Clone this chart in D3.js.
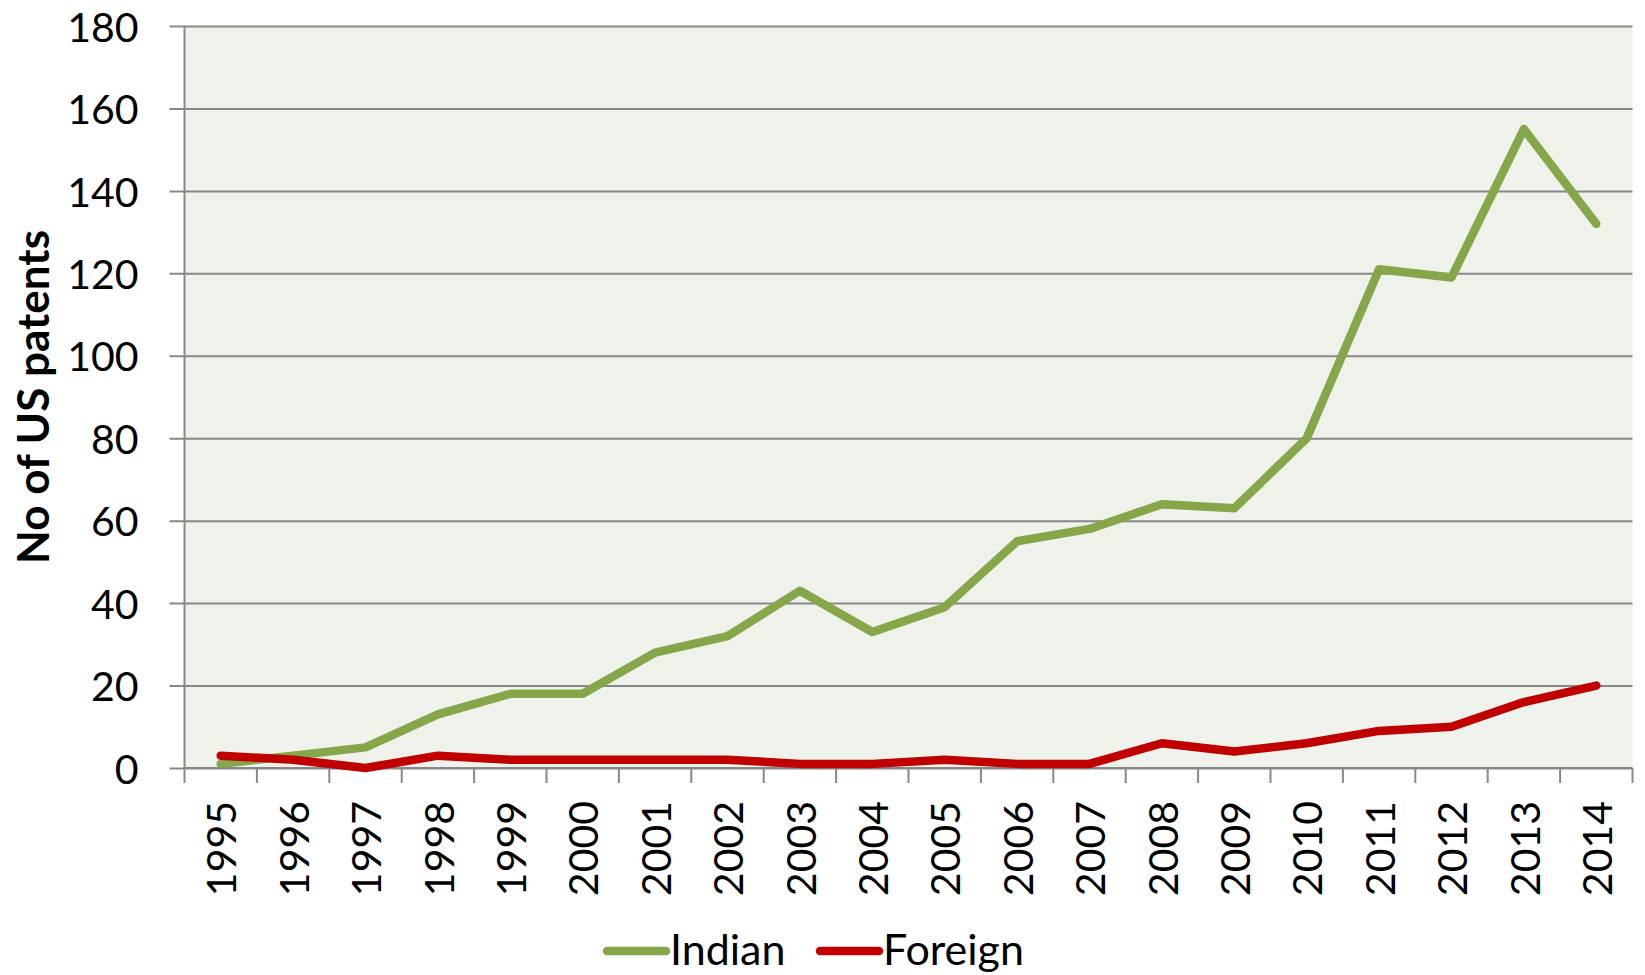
<!DOCTYPE html>
<html>
<head>
<meta charset="utf-8">
<script src="https://d3js.org/d3.v7.min.js"></script>
<style>
    body { margin: 0; background: #fff; }
    text { font-family: Lato, "Open Sans", "DejaVu Sans", sans-serif; fill: #000; }
</style>
</head>
<body>
<script>
// data
let years = ["1995", "1996", "1997", "1998", "1999", "2000", "2001", "2002", "2003", "2004",
             "2005", "2006", "2007", "2008", "2009", "2010", "2011", "2012", "2013", "2014"];
let indian = [1, 3, 5, 13, 18, 18, 28, 32, 43, 33, 39, 55, 58, 64, 63, 80, 121, 119, 155, 132];
let foreign = [3, 2, 0, 3, 2, 2, 2, 2, 1, 1, 2, 1, 1, 6, 4, 6, 9, 10, 16, 20];
let yTicks = [0, 20, 40, 60, 80, 100, 120, 140, 160, 180];
let seriesNames = ["Indian", "Foreign"];
let seriesColors = ["#86A64A", "#C00000"];

// set the dimensions and margins of the graph
let margin = {top: 26, right: 12.5, bottom: 207, left: 184.5},
    width = 1645 - margin.left - margin.right,
    height = 975 - margin.top - margin.bottom;

// set the ranges
let x = d3.scaleBand().domain(years).range([0, width]);
let y = d3.scaleLinear().domain([0, 180]).range([height, 0]);

let svg = d3.select("body").append("svg")
    .attr("width", 1645)
    .attr("height", 975);

let context = svg.append("g")
    .attr("transform", "translate(" + margin.left + "," + margin.top + ")");

// plot background
context.append("rect")
    .attr("width", width)
    .attr("height", height)
    .attr("fill", "#EFF2EA");

// gridlines + y axis
let yAxis = context.append("g")
    .call(d3.axisLeft(y).tickValues(yTicks).tickSize(15).tickPadding(31));
yAxis.select(".domain").remove();
yAxis.selectAll(".tick line")
    .attr("x2", width)
    .attr("x1", -15)
    .attr("stroke", "#888")
    .attr("stroke-width", 2);
yAxis.selectAll(".tick text")
    .style("font-size", "41px")
    .attr("dy", "0.37em");

// vertical axis line
context.append("line")
    .attr("x1", 0).attr("x2", 0)
    .attr("y1", 0).attr("y2", height)
    .attr("stroke", "#888")
    .attr("stroke-width", 2);

// x axis: ticks on band boundaries
let xAxis = context.append("g")
    .attr("transform", "translate(0," + height + ")");
xAxis.append("line")
    .attr("x1", 0).attr("x2", width)
    .attr("stroke", "#888")
    .attr("stroke-width", 2);
xAxis.selectAll(".xtick")
    .data(years.concat(["end"]))
    .enter().append("line")
    .attr("class", "xtick")
    .attr("x1", function(d, i) { return i * x.step(); })
    .attr("x2", function(d, i) { return i * x.step(); })
    .attr("y1", 0)
    .attr("y2", 15)
    .attr("stroke", "#888")
    .attr("stroke-width", 2);
xAxis.selectAll(".xlabel")
    .data(years)
    .enter().append("text")
    .attr("class", "xlabel")
    .attr("transform", function(d) {
        return "translate(" + (x(d) + x.bandwidth() / 2 + 1) + ",33) rotate(-90)";
    })
    .attr("text-anchor", "end")
    .attr("dy", "0.36em")
    .style("font-size", "41px")
    .text(function(d) { return d; });

// lines
let valueline = d3.line()
    .x(function(d, i) { return x(years[i]) + x.bandwidth() / 2; })
    .y(function(d) { return y(d); });

[indian, foreign].forEach(function(series, k) {
    context.append("path")
        .datum(series)
        .attr("fill", "none")
        .attr("stroke", seriesColors[k])
        .attr("stroke-width", 8.5)
        .attr("stroke-linecap", "round")
        .attr("stroke-linejoin", "round")
        .attr("d", valueline);
});

// y axis title
svg.append("text")
    .attr("transform", "translate(33," + (margin.top + height / 2) + ") rotate(-90)")
    .attr("text-anchor", "middle")
    .attr("dy", "0.36em")
    .style("font-size", "44px")
    .style("font-weight", "bold")
    .text("No of US patents");

// legend
let legendX = [607, 820];
let legend = svg.selectAll(".legend")
    .data(seriesNames)
    .enter().append("g")
    .attr("class", "legend")
    .attr("transform", function(d, i) { return "translate(" + legendX[i] + ",951)"; });
legend.append("line")
    .attr("x1", 0).attr("x2", 59)
    .attr("stroke", function(d, i) { return seriesColors[i]; })
    .attr("stroke-width", 8.5)
    .attr("stroke-linecap", "round");
legend.append("text")
    .attr("x", 63)
    .attr("y", 14)
    .style("font-size", "43px")
    .text(function(d) { return d; });
</script>
</body>
</html>
